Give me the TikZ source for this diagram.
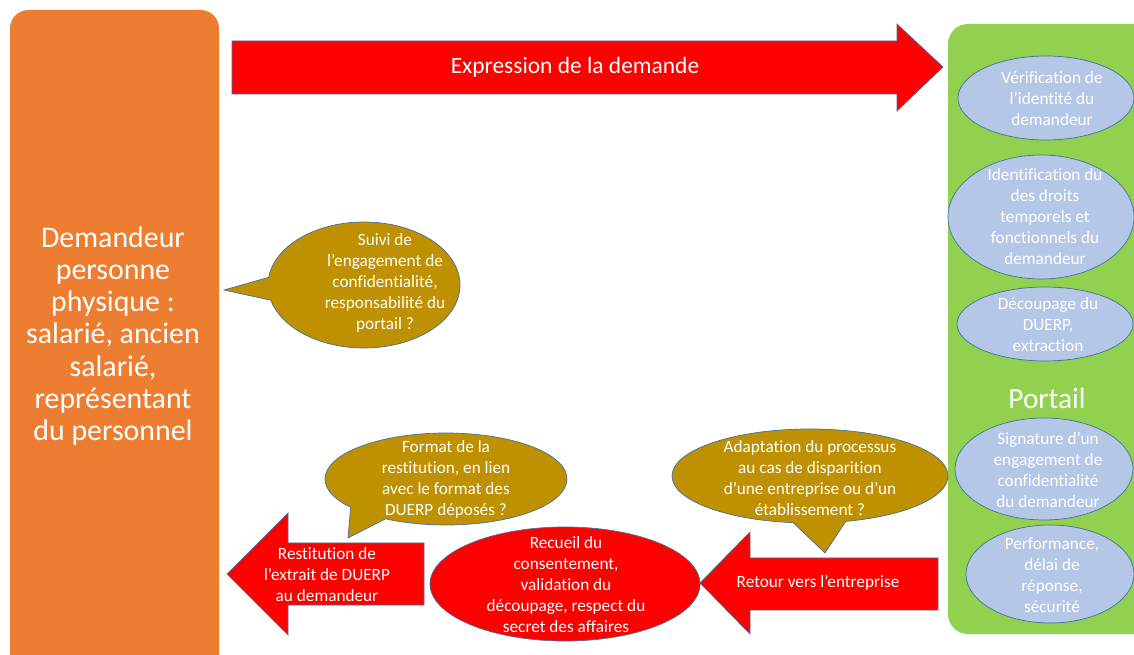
\documentclass[tikz,border=0pt]{standalone}
\usepackage{fontspec}
\setmainfont{Carlito}[Ligatures=NoCommon]
\usepackage{xcolor}
\usepackage{tikz}
\usetikzlibrary{positioning}

\definecolor{demandeur}{HTML}{ED7D31}
\definecolor{portail}{HTML}{92D050}
\definecolor{fleche}{HTML}{FF0000}
\definecolor{bulle}{HTML}{BF9000}
\definecolor{etape}{HTML}{B4C7E7}
\definecolor{contour}{HTML}{41719C}

\tikzset{
	grandtexte/.style={text=white, align=center, inner sep=0pt,
		font=\fontsize{25.5}{27.4}\selectfont},
	petittexte/.style={text=white, align=center, inner sep=0pt,
		font=\fontsize{14.7}{17.9}\selectfont},
	bord/.style={draw=contour, line width=0.6pt}
}

\begin{document}
\begin{tikzpicture}[x=0.03cm, y=-0.03cm]
	\useasboundingbox (0,0) rectangle (1134,655);
	\clip (0,0) rectangle (1134,655);
	% Demandeur
	\fill[
		color=demandeur,
		rounded corners=0.55cm
	] (10,10) rectangle (219,690);
	\node[
		grandtexte
	] (demandeur) at (113,336) {Demandeur\\personne\\physique :\\salarié, ancien\\salarié,\\représentant\\du personnel};
	% Portail
	\fill[
		color=portail,
		rounded corners=0.6cm
	] (948,24) rectangle (1160,634);
	\node[
		text=white,
		font=\fontsize{25}{30}\selectfont
	] (portail) at (1047,398) {Portail};
	% Etapes du portail
	\draw[bord, fill=etape] (1046,98) ellipse [x radius=88, y radius=42];
	\node[petittexte] (verif) at (1052,99) {Vérification de\\l’identité du\\demandeur};
	\draw[bord, fill=etape] (1041,217) ellipse [x radius=93, y radius=62];
	\node[petittexte] (droits) at (1045,217) {Identification du\\des droits\\temporels et\\fonctionnels du\\demandeur};
	\draw[bord, fill=etape] (1045,324) ellipse [x radius=88, y radius=37];
	\node[petittexte] (decoupage) at (1048,325) {Découpage du\\DUERP,\\extraction};
	\draw[bord, fill=etape] (1044,469) ellipse [x radius=89, y radius=51];
	\node[petittexte] (signature) at (1048,470) {Signature d’un\\engagement de\\confidentialité\\du demandeur};
	\draw[bord, fill=etape] (1050,574) ellipse [x radius=84, y radius=49];
	\node[petittexte] (perf) at (1052,575) {Performance,\\délai de\\réponse,\\sécurité};
	% Fleche demande
	\draw[
		bord,
		fill=fleche
	] (232,41) -- (897,41) -- (897,24) -- (943,67) -- (897,111) -- (897,94) -- (232,94) -- cycle;
	\node[
		text=white,
		font=\fontsize{20}{24}\selectfont
	] (demande) at (575,67) {Expression de la demande};
	% Bulle suivi
	\draw[
		bord,
		fill=bulle
	] (364,285) ++(187:96 and 63) arc[start angle=187, end angle=526, x radius=96, y radius=63]
		-- (224,290) -- cycle;
	\node[petittexte] (suivi) at (385,283) {Suivi de\\l’engagement de\\confidentialité,\\responsabilité du\\portail ?};
	% Fleche retour
	\draw[
		bord,
		fill=fleche
	] (938,558) -- (750,558) -- (750,532) -- (700,583) -- (750,634) -- (750,610) -- (938,610) -- cycle;
	\node[petittexte] (retour) at (818,583) {Retour vers l’entreprise};
	% Bulle disparition
	\draw[
		bord,
		fill=bulle
	] (810,476) ++(97:138 and 47) arc[start angle=97, end angle=435, x radius=138, y radius=47]
		-- (825,553) -- cycle;
	\node[petittexte] (adaptation) at (810,478) {Adaptation du processus\\au cas de disparition\\d’une entreprise ou d’un\\établissement ?};
	% Recueil
	\draw[bord, fill=fleche] (565,584) ellipse [x radius=135, y radius=57];
	\node[petittexte] (recueil) at (566,585) {Recueil du\\consentement,\\validation du\\découpage, respect du\\secret des affaires};
	% Fleche restitution
	\draw[
		bord,
		fill=fleche
	] (424,543) -- (288,543) -- (288,513) -- (227,574) -- (288,635) -- (288,605) -- (424,605) -- cycle;
	\node[petittexte] (restitution) at (327,575) {Restitution de\\l’extrait de DUERP\\au demandeur};
	% Bulle format
	\draw[
		bord,
		fill=bulle
	] (446,479) ++(142:121 and 46) arc[start angle=142, end angle=480, x radius=121, y radius=46]
		-- (348,538) -- cycle;
	\node[petittexte] (format) at (446,479) {Format de la\\restitution, en lien\\avec le format des\\DUERP déposés ?};
\end{tikzpicture}
\end{document}
